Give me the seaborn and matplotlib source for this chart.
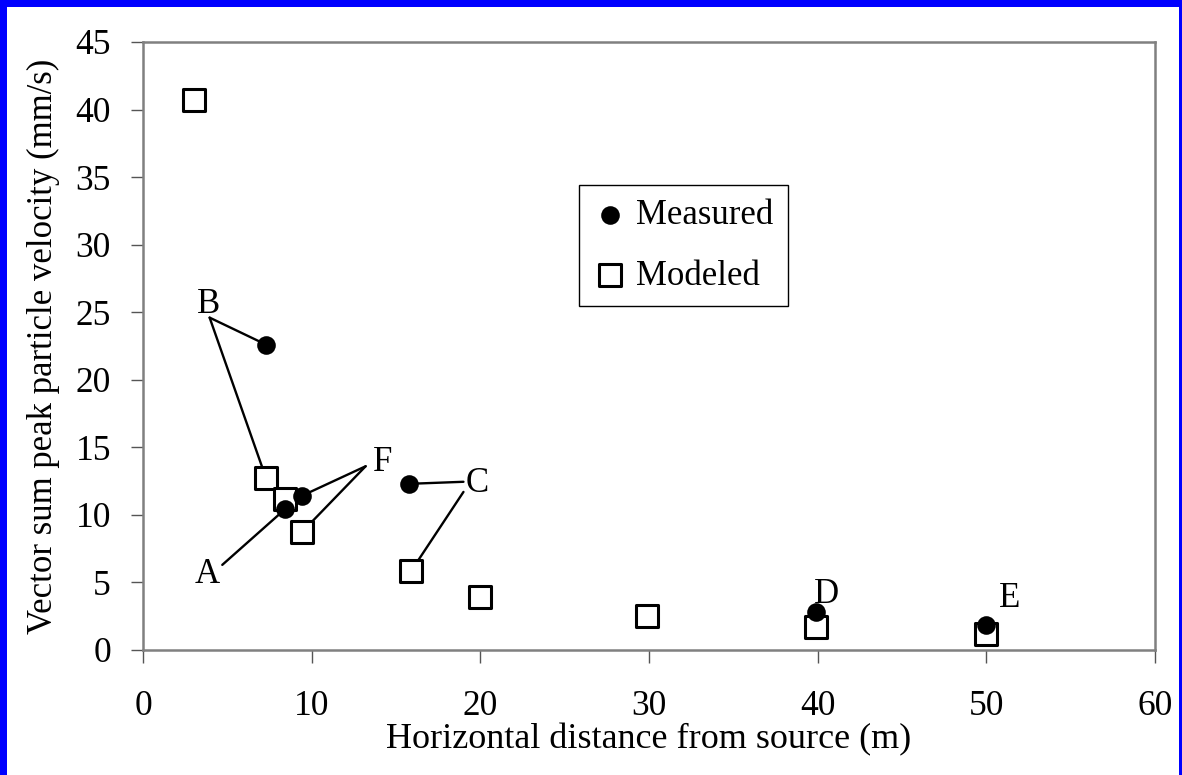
import matplotlib
matplotlib.use("Agg")
import matplotlib.pyplot as plt
import seaborn as sns
import pandas as pd
from matplotlib.patches import Rectangle

# ---- data ----
modeled_x = [3, 7.3, 8.4, 9.4, 15.9, 20, 29.9, 39.9, 50]
modeled_y = [40.7, 12.7, 11.2, 8.7, 5.85, 3.9, 2.55, 1.7, 1.15]

measured_x = [7.3, 8.4, 9.4, 15.8, 39.9, 50]
measured_y = [22.6, 10.4, 11.4, 12.3, 2.8, 1.85]

# site labels and their text positions (data units)
site_labels = ["B", "A", "F", "C", "D", "E"]
label_x = [3.9, 3.8, 14.2, 19.8, 40.5, 51.4]
label_y = [25.6, 5.6, 13.9, 12.3, 4.1, 3.8]

# leader lines: (start x, start y) -> point index in measured / modeled
leader_start_x = [3.95, 3.95, 4.7, 13.2, 13.2, 19.0, 19.0]
leader_start_y = [24.6, 24.6, 6.3, 13.6, 13.6, 12.45, 11.7]
leader_series = ["measured", "modeled", "measured", "measured", "modeled", "measured", "modeled"]
leader_index = [0, 1, 1, 2, 3, 3, 4]

x_ticks = [0, 10, 20, 30, 40, 50, 60]
y_ticks = [0, 5, 10, 15, 20, 25, 30, 35, 40, 45]

df_mod = pd.DataFrame({"x": modeled_x, "y": modeled_y})
df_meas = pd.DataFrame({"x": measured_x, "y": measured_y})

sns.set_theme(style="white")
plt.rcParams["font.family"] = ["Liberation Serif", "DejaVu Serif"]
plt.rcParams["text.color"] = "black"
plt.rcParams["axes.labelcolor"] = "black"

fig = plt.figure(figsize=(11.82, 7.75), dpi=100)
fig.patch.set_facecolor("white")
ax = fig.add_axes([143 / 1182, 1 - 650 / 775, (1155 - 143) / 1182, (650 - 42) / 775])

# leader lines (beneath markers)
for sx, sy, ser, idx in zip(leader_start_x, leader_start_y, leader_series, leader_index):
    if ser == "measured":
        px, py = measured_x[idx], measured_y[idx]
    else:
        px, py = modeled_x[idx], modeled_y[idx]
    ax.annotate("", xy=(px, py), xytext=(sx, sy),
                arrowprops=dict(arrowstyle="-", color="black", lw=1.7,
                                shrinkA=0, shrinkB=0), zorder=1)

sns.scatterplot(data=df_mod, x="x", y="y", marker="s", s=250, color="white",
                edgecolor="black", linewidth=2.2, ax=ax, zorder=2, label="Modeled")
sns.scatterplot(data=df_meas, x="x", y="y", marker="o", s=180, color="black",
                edgecolor="black", linewidth=0, ax=ax, zorder=3, label="Measured")

for t, lx, ly in zip(site_labels, label_x, label_y):
    ax.text(lx, ly, t, fontsize=25, ha="center", va="center", color="black", zorder=4)

ax.set_xlim(0, 60)
ax.set_ylim(0, 45)
ax.set_xticks(x_ticks)
ax.set_yticks(y_ticks)
ax.set_xticklabels([str(v) for v in x_ticks])
ax.set_yticklabels([str(v) for v in y_ticks])
ax.tick_params(axis="both", direction="out", length=9, width=1, color="#555555",
               labelsize=25.5, labelcolor="black")
ax.tick_params(axis="x", pad=20)
ax.tick_params(axis="y", pad=14)
ax.tick_params(bottom=True, left=True, top=False, right=False)

ax.set_xlabel("Horizontal distance from source (m)", fontsize=26, labelpad=0, color="black")
ax.set_ylabel("Vector sum peak particle velocity (mm/s)", fontsize=25, labelpad=11, color="black")

for sp in ax.spines.values():
    sp.set_color("#808080")
    sp.set_linewidth(1.8)
    sp.set_visible(True)

handles, labels = ax.get_legend_handles_labels()
order = [labels.index("Measured"), labels.index("Modeled")]
leg = ax.legend([handles[i] for i in order], [labels[i] for i in order],
                loc="upper left", bbox_to_anchor=(0.431, 0.765), borderaxespad=0,
                fontsize=25, frameon=True, fancybox=False, edgecolor="black",
                framealpha=1, handletextpad=0.25, labelspacing=0.8,
                borderpad=0.4, handlelength=1.0, markerscale=1.0)
leg.get_frame().set_linewidth(1.0)
for txt in leg.get_texts():
    txt.set_color("black")

# blue frame around the figure (left, top, right)
W, H = 1182, 775
fig.patches.append(Rectangle((0, 0), 7 / W, 1, transform=fig.transFigure,
                             facecolor="#0000ff", edgecolor="none", zorder=10))
fig.patches.append(Rectangle((0, 1 - 7 / H), 1, 7 / H, transform=fig.transFigure,
                             facecolor="#0000ff", edgecolor="none", zorder=10))
fig.patches.append(Rectangle((1 - 3 / W, 0), 3 / W, 1, transform=fig.transFigure,
                             facecolor="#0000ff", edgecolor="none", zorder=10))

fig.savefig("out.png", dpi=100, facecolor="white")
